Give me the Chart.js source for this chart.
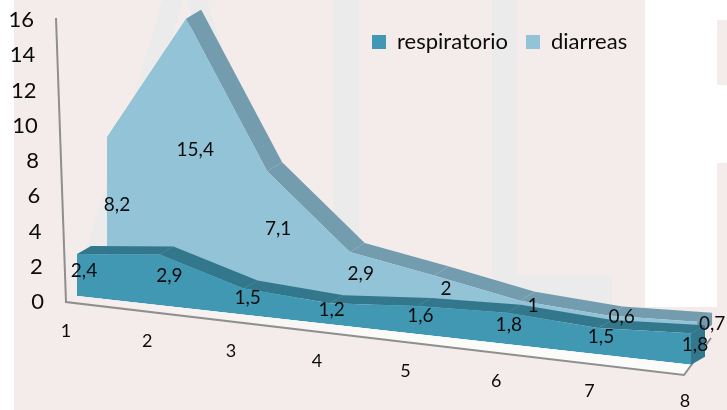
<!DOCTYPE html>
<html>
<head>
<meta charset="utf-8">
<style>
  html, body { margin: 0; padding: 0; background: #fff; }
  canvas { display: block; }
</style>
<script src="https://cdn.jsdelivr.net/npm/chart.js@4/dist/chart.umd.js"></script>
</head>
<body>
<canvas id="areaChart" width="727" height="410"></canvas>
<script>
const categories = ["1", "2", "3", "4", "5", "6", "7", "8"];
const respiratorio = [2.4, 2.9, 1.5, 1.2, 1.6, 1.8, 1.5, 1.8];
const diarreas = [8.2, 15.4, 7.1, 2.9, 2, 1, 0.6, 0.7];
const yTicks = [0, 2, 4, 6, 8, 10, 12, 14, 16];

const FONT = "Lato, 'Open Sans', sans-serif";
const INK = "#0c0c0c";

// fake 3D look: each series gets its own flat projection plus a depth band
const views = [
  { k: 0.112, sx: 1, tx: 77, ty: 0, depth: [14, -8], band: "#33778c", nudge: [7, 10, 4, 2, 3, 2, 3, 4] },
  { k: 0.09, sx: 0.961, tx: 107, ty: -15, depth: [15, -9], band: "#739caf", nudge: [10, 9, 11, 11, 12, 13, 14, 15] },
];

// the categories get slightly wider towards the front, like the original perspective
const warp = (t, a) => a * t + (1 - a) * t * t;

const project3d = {
  id: "project3d",
  afterDatasetsUpdate(chart) {
    const { left, right } = chart.chartArea;
    chart.getSortedVisibleDatasetMetas().forEach((meta) => {
      meta.data.forEach((pt) => {
        pt.x = left + (right - left) * warp((pt.x - left) / (right - left), 0.93);
      });
    });
  },
  afterLayout(chart) {
    // legend floats over the plot, top right
    const l = chart.legend;
    const w = l.width;
    const h = l.height;
    l.left = 354;
    l.right = l.left + w;
    l.top = 13;
    l.bottom = l.top + h;
  },
  beforeDraw(chart) {
    const c = chart.ctx;
    // slide background
    c.save();
    c.fillStyle = "#f4ecea";
    c.fillRect(14, 0, 631, 410);
    c.fillRect(645, 307, 82, 103);
    c.fillRect(717, 20, 10, 65);
    c.fillRect(717, 163, 10, 144);
    c.fillStyle = "#ebebeb";
    c.fillRect(333, 0, 26, 300);
    c.fillRect(492, 0, 25, 300);
    c.fillRect(517, 275, 95, 30);
    c.beginPath();
    c.moveTo(163, 0); c.lineTo(183, 0); c.lineTo(110, 250); c.lineTo(86, 250);
    c.closePath();
    c.moveTo(187, 0); c.lineTo(207, 0); c.lineTo(300, 300); c.lineTo(275, 300);
    c.closePath();
    c.fill();
    c.restore();
  },
  beforeDatasetsDraw(chart) {
    const c = chart.ctx;
    const sx = chart.scales.x;
    const sy = chart.scales.y;
    const base = sy.getPixelForValue(0);
    const ex = sx.getPixelForValue(7);
    // floor and axes
    const ox = 66, oy = 302;
    c.save();
    const floor = c.createLinearGradient(ox, 0, 400, 0);
    floor.addColorStop(0, "#f4ecea");
    floor.addColorStop(1, "#fbfbfa");
    c.fillStyle = floor;
    c.beginPath();
    c.moveTo(ox, oy);
    c.lineTo(ex - 7, base + 79);
    c.lineTo(ex + 20, base + 42);
    c.lineTo(ox + 14, oy - 8);
    c.closePath();
    c.fill();
    c.strokeStyle = "#8f8f8f";
    c.lineWidth = 2;
    c.beginPath();
    c.moveTo(56, 18);
    c.lineTo(ox, oy);
    c.lineTo(ex - 7, base + 79);
    c.lineTo(ex + 20, base + 42);
    c.stroke();
    c.font = "22px " + FONT;
    c.fillStyle = INK;
    c.textBaseline = "middle";
    c.textAlign = "right";
    sy.ticks.forEach((t, i) => {
      const f = (base - sy.getPixelForTick(i)) / (base - sy.getPixelForValue(16));
      c.fillText(t.label, 44 - 10 * f, 302 - 282 * f);
    });
    c.font = "18px " + FONT;
    c.textAlign = "center";
    categories.forEach((cat, i) => {
      const t = (sx.getPixelForValue(i) - sx.left) / (sx.right - sx.left);
      c.fillText(cat, 66 + 619 * warp(t, 0.906), 331 + 70 * t);
    });
    c.restore();
  },
  beforeDatasetDraw(chart, args) {
    const c = chart.ctx;
    const v = views[args.index];
    const left = chart.scales.x.left;
    const pts = args.meta.data;
    const y0 = chart.scales.y.getPixelForValue(0);
    c.save();
    c.translate(v.tx, v.ty);
    c.transform(v.sx, v.k * v.sx, 0, 1, -left * v.sx, -left * v.k * v.sx);
    // depth band along the top edge and the end cap, offsets undo the shear
    const dx = v.depth[0] / v.sx;
    const dy = v.depth[1] - v.k * v.depth[0];
    c.fillStyle = v.band;
    for (let i = 0; i < pts.length - 1; i++) {
      const a = pts[i], b = pts[i + 1];
      c.beginPath();
      c.moveTo(a.x, a.y);
      c.lineTo(b.x, b.y);
      c.lineTo(b.x + dx, b.y + dy);
      c.lineTo(a.x + dx, a.y + dy);
      c.closePath();
      c.fill();
    }
    const e = pts[pts.length - 1];
    c.beginPath();
    c.moveTo(e.x, e.y);
    c.lineTo(e.x + dx, e.y + dy);
    c.lineTo(e.x + dx, y0 + dy);
    c.lineTo(e.x, y0);
    c.closePath();
    c.fill();
  },
  afterDatasetDraw(chart) {
    chart.ctx.restore();
  },
  afterDatasetsDraw(chart) {
    const c = chart.ctx;
    const left = chart.scales.x.left;
    const y0 = chart.scales.y.getPixelForValue(0);
    c.save();
    c.font = "19px " + FONT;
    c.fillStyle = INK;
    c.textAlign = "center";
    c.textBaseline = "middle";
    chart.data.datasets.forEach((ds, d) => {
      const v = views[d];
      chart.getDatasetMeta(d).data.forEach((pt, i) => {
        const x = v.tx + (pt.x - left) * v.sx;
        const y = (pt.y + y0) / 2 + v.ty + v.k * (x - v.tx) - 4;
        c.fillText(String(ds.data[i]).replace(".", ","), x + v.nudge[i], y);
      });
    });
    c.restore();
  },
};

// our hook has to run before the filler so the fill is projected too
Chart.unregister(Chart.Filler);
Chart.register(project3d, Chart.Filler);

new Chart(document.getElementById("areaChart").getContext("2d"), {
  type: "line",
  data: {
    labels: categories,
    datasets: [
      { label: "respiratorio", data: respiratorio, backgroundColor: "#4198b3", borderWidth: 0, pointRadius: 0, fill: "origin" },
      { label: "diarreas", data: diarreas, backgroundColor: "#93c3d6", borderWidth: 0, pointRadius: 0, fill: "origin" },
    ],
  },
  options: {
    responsive: false,
    animation: false,
    layout: { padding: { left: 77, right: 36, top: 16, bottom: 64 } },
    scales: {
      x: { display: false },
      y: { display: false, min: 0, max: 16, afterBuildTicks: (s) => { s.ticks = yTicks.map((value) => ({ value, label: String(value) })); } },
    },
    plugins: {
      legend: {
        position: "bottom",
        align: "start",
        labels: { boxWidth: 14, boxHeight: 14, color: INK, padding: 18, font: { family: FONT, size: 22 } },
      },
      tooltip: { enabled: false },
    },
  },
});
</script>
</body>
</html>
